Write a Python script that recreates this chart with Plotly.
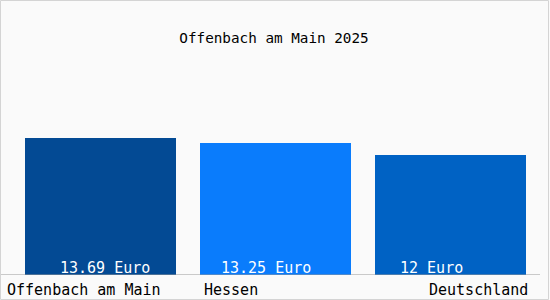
import plotly.graph_objects as go

categories = ["Offenbach am Main", "Hessen", "Deutschland"]
values = [13.69, 13.25, 12.0]
value_labels = ["13.69 Euro", "13.25 Euro", "12 Euro"]
title_text = "Offenbach am Main 2025"

colors = ["#034a94", "#0a7cfc", "#0062c4"]
FONT = "DejaVu Sans Mono"
W, H = 550, 300

fig = go.Figure()
fig.add_trace(go.Bar(
    x=list(range(len(categories))), y=values,
    marker=dict(color=colors, line=dict(width=0)),
    width=151 / 175, hoverinfo="skip",
))

# value labels inside bars (white) -- offsets relative to bar centre
val_shift = [4, -10, -19]
for i, (lab, s) in enumerate(zip(value_labels, val_shift)):
    fig.add_annotation(x=i, y=0, xref="x", yref="y", text=lab, showarrow=False,
                       xanchor="center", yanchor="bottom", xshift=s, yshift=-4,
                       font=dict(family=FONT, size=15, color="white"))

# category labels below axis
cat_anchor = ["left", "center", "right"]
cat_shift = [-96, -44.5, 79]
for i, (lab, a, s) in enumerate(zip(categories, cat_anchor, cat_shift)):
    fig.add_annotation(x=i, y=0, xref="x", yref="y", text=lab, showarrow=False,
                       xanchor=a, yanchor="top", xshift=s, yshift=-4,
                       font=dict(family=FONT, size=15, color="black"))

# baseline axis line
fig.add_shape(type="line", xref="paper", yref="y", x0=0, x1=540 / W, y0=0, y1=0,
              line=dict(color="#999999", width=1), layer="above")
# outer border
fig.add_shape(type="rect", xref="paper", yref="paper", x0=0.5 / W, x1=548.5 / W,
              y0=0.5 / H, y1=299.5 / H, line=dict(color="#d4d4d4", width=1))

fig.update_layout(
    width=W, height=H,
    margin=dict(l=0, r=0, t=0, b=0),
    paper_bgcolor="#fafafa", plot_bgcolor="#fafafa",
    showlegend=False,
    bargap=0,
    title=dict(text=title_text, x=274 / W, xanchor="center", xref="paper",
               y=1 - 38 / H, yanchor="middle", yref="container",
               font=dict(family=FONT, size=14.3, color="black")),
    xaxis=dict(domain=[13 / W, 538 / W], range=[-0.5, 2.5], visible=False,
               fixedrange=True),
    yaxis=dict(domain=[25 / H, 275 / H], range=[0, 25], visible=False,
               fixedrange=True),
)

fig.write_html("out.html", config=dict(displayModeBar=False))
